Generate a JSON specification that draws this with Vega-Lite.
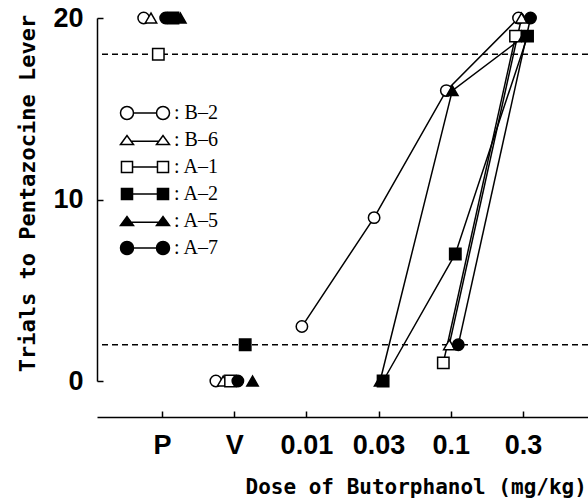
{
  "$schema": "https://vega.github.io/schema/vega-lite/v6.json",
  "width": 491,
  "height": 363,
  "autosize": {"type": "none"},
  "padding": {"left": 97, "top": 18, "right": 0, "bottom": 119},
  "background": "white",
  "config": {
    "view": {"stroke": null},
    "axis": {"grid": false, "domainColor": "black", "domainWidth": 1.5, "tickColor": "black", "tickWidth": 1.5, "labelColor": "black", "titleColor": "black"},
    "legend": {
      "orient": "none", "legendX": 20, "legendY": 85, "padding": 0,
      "labelFont": "Liberation Serif", "labelFontSize": 20, "labelColor": "black",
      "symbolOffset": 18, "labelOffset": 19, "rowPadding": 7, "labelLimit": 0,
      "symbolSize": 169, "symbolStrokeWidth": 1.5, "symbolStrokeColor": "black", "symbolOpacity": 1
    }
  },
  "data": {"values": [
    {"subject": "B-2", "dose": "P", "trials": 20},
    {"subject": "B-6", "dose": "P", "trials": 20},
    {"subject": "A-1", "dose": "P", "trials": 18},
    {"subject": "A-2", "dose": "P", "trials": 20},
    {"subject": "A-5", "dose": "P", "trials": 20},
    {"subject": "A-7", "dose": "P", "trials": 20},
    {"subject": "B-2", "dose": "V", "trials": 0},
    {"subject": "B-6", "dose": "V", "trials": 0},
    {"subject": "A-1", "dose": "V", "trials": 0},
    {"subject": "A-2", "dose": "V", "trials": 2},
    {"subject": "A-5", "dose": "V", "trials": 0},
    {"subject": "A-7", "dose": "V", "trials": 0},
    {"subject": "B-2", "dose": "0.01", "trials": 3},
    {"subject": "B-2", "dose": "0.03", "trials": 9},
    {"subject": "A-2", "dose": "0.03", "trials": 0},
    {"subject": "A-5", "dose": "0.03", "trials": 0},
    {"subject": "B-2", "dose": "0.1", "trials": 16},
    {"subject": "B-6", "dose": "0.1", "trials": 2},
    {"subject": "A-1", "dose": "0.1", "trials": 1},
    {"subject": "A-2", "dose": "0.1", "trials": 7},
    {"subject": "A-5", "dose": "0.1", "trials": 16},
    {"subject": "A-7", "dose": "0.1", "trials": 2},
    {"subject": "B-2", "dose": "0.3", "trials": 20},
    {"subject": "B-6", "dose": "0.3", "trials": 20},
    {"subject": "A-1", "dose": "0.3", "trials": 19},
    {"subject": "A-2", "dose": "0.3", "trials": 19},
    {"subject": "A-5", "dose": "0.3", "trials": 19},
    {"subject": "A-7", "dose": "0.3", "trials": 20}
  ]},
  "layer": [
    {
      "data": {"values": [{"criterion": 18}, {"criterion": 2}]},
      "mark": {"type": "rule", "color": "black", "strokeWidth": 1.5, "strokeDash": [6, 4]},
      "encoding": {"y": {"field": "criterion", "type": "quantitative", "scale": {"domain": [0, 20], "nice": false}}}
    },
    {
      "encoding": {
        "x": {"field": "dose", "type": "ordinal", "sort": ["P", "V", "0.01", "0.03", "0.1", "0.3"],
          "scale": {"type": "point", "domain": ["P", "V", "0.01", "0.03", "0.1", "0.3"], "padding": 0.9},
          "axis": {"title": "Dose of Butorphanol (mg/kg)", "offset": 36, "tickSize": -6, "labelPadding": 21, "labelAngle": 0,
            "labelFont": "Liberation Sans", "labelFontWeight": "bold", "labelFontSize": 27,
            "titleFont": "DejaVu Sans Mono", "titleFontWeight": "bold", "titleFontSize": 21,
            "titleX": 148, "titleY": 76, "titleAlign": "left", "titleBaseline": "alphabetic"}},
        "y": {"field": "trials", "type": "quantitative", "scale": {"domain": [0, 20], "nice": false},
          "axis": {"title": "Trials to Pentazocine Lever", "values": [0, 10, 20], "tickSize": -6, "labelPadding": 20,
            "labelFont": "Liberation Sans", "labelFontWeight": "bold", "labelFontSize": 27,
            "titleFont": "DejaVu Sans Mono", "titleFontWeight": "bold", "titleFontSize": 22,
            "titleX": -63, "titleY": 175, "titleAlign": "center", "titleBaseline": "alphabetic", "titleAngle": -90}}
      },
      "layer": [
        {
          "mark": {"type": "point", "filled": true, "strokeWidth": 1.5, "opacity": 0},
          "encoding": {
            "shape": {"field": "subject", "type": "nominal",
              "scale": {"domain": ["B-2", "B-6", "A-1", "A-2", "A-5", "A-7"], "range": [
                "M-3.77,0A1,1,0,1,0,-1.77,0A1,1,0,1,0,-3.77,0ZM-1.77,0L1.77,0M1.77,0A1,1,0,1,0,3.77,0A1,1,0,1,0,1.77,0Z",
                "M-3.77,0.7L-2.77,-0.7L-1.77,0.7ZM-2.13,0.2L2.13,0.2M1.77,0.7L2.77,-0.7L3.77,0.7Z",
                "M-3.62,-0.85H-1.92V0.85H-3.62ZM-1.92,0L1.92,0M1.92,-0.85H3.62V0.85H1.92Z",
                "M-3.62,-0.85H-1.92V0.85H-3.62ZM-1.92,0L1.92,0M1.92,-0.85H3.62V0.85H1.92Z",
                "M-3.77,0.7L-2.77,-0.7L-1.77,0.7ZM-2.13,0.2L2.13,0.2M1.77,0.7L2.77,-0.7L3.77,0.7Z",
                "M-3.77,0A1,1,0,1,0,-1.77,0A1,1,0,1,0,-3.77,0ZM-1.77,0L1.77,0M1.77,0A1,1,0,1,0,3.77,0A1,1,0,1,0,1.77,0Z"]},
              "legend": {"title": null, "labelExpr": "': ' + replace(datum.label, '-', '–')"}},
            "fill": {"field": "subject", "type": "nominal",
              "scale": {"domain": ["B-2", "B-6", "A-1", "A-2", "A-5", "A-7"], "range": ["white", "white", "white", "black", "black", "black"]},
              "legend": {"title": null, "labelExpr": "': ' + replace(datum.label, '-', '–')"}},
            "stroke": {"field": "subject", "type": "nominal",
              "scale": {"domain": ["B-2", "B-6", "A-1", "A-2", "A-5", "A-7"], "range": ["black", "black", "black", "black", "black", "black"]},
              "legend": {"title": null, "labelExpr": "': ' + replace(datum.label, '-', '–')"}}
          }
        },
        {
          "transform": [{"filter": "datum.dose === 'P' || datum.dose === 'V'"}],
          "mark": {"type": "point", "filled": true, "stroke": "black", "strokeWidth": 1.5, "size": 130, "opacity": 1},
          "encoding": {
            "xOffset": {"field": "subject", "type": "nominal", "scale": {"type": "point", "domain": ["B-2", "B-6", "A-1", "A-7", "A-2", "A-5"], "range": [-22, 22]}},
            "shape": {"field": "subject", "type": "nominal",
              "scale": {"domain": ["B-2", "B-6", "A-1", "A-2", "A-5", "A-7"], "range": ["circle", "triangle-up", "square", "square", "triangle-up", "circle"]},
              "legend": null},
            "fill": {"field": "subject", "type": "nominal",
              "scale": {"domain": ["B-2", "B-6", "A-1", "A-2", "A-5", "A-7"], "range": ["white", "white", "white", "black", "black", "black"]},
              "legend": null}
          }
        },
        {
          "transform": [{"filter": "datum.dose !== 'P' && datum.dose !== 'V'"}],
          "encoding": {
            "xOffset": {"field": "subject", "type": "nominal", "scale": {"type": "point", "domain": ["A-1", "B-2", "B-6", "A-5", "A-2", "A-7"], "range": [-9, 9]}}
          },
          "layer": [
            {
              "mark": {"type": "line", "color": "black", "strokeWidth": 1.5},
              "encoding": {"detail": {"field": "subject", "type": "nominal"}}
            },
            {
              "mark": {"type": "point", "filled": true, "stroke": "black", "strokeWidth": 1.5, "size": 130, "opacity": 1},
              "encoding": {
                "shape": {"field": "subject", "type": "nominal",
                  "scale": {"domain": ["B-2", "B-6", "A-1", "A-2", "A-5", "A-7"], "range": ["circle", "triangle-up", "square", "square", "triangle-up", "circle"]},
                  "legend": null},
                "fill": {"field": "subject", "type": "nominal",
                  "scale": {"domain": ["B-2", "B-6", "A-1", "A-2", "A-5", "A-7"], "range": ["white", "white", "white", "black", "black", "black"]},
                  "legend": null}
              }
            }
          ]
        }
      ],
      "resolve": {"scale": {"xOffset": "independent", "shape": "independent", "fill": "independent", "stroke": "independent"}}
    }
  ]
}
